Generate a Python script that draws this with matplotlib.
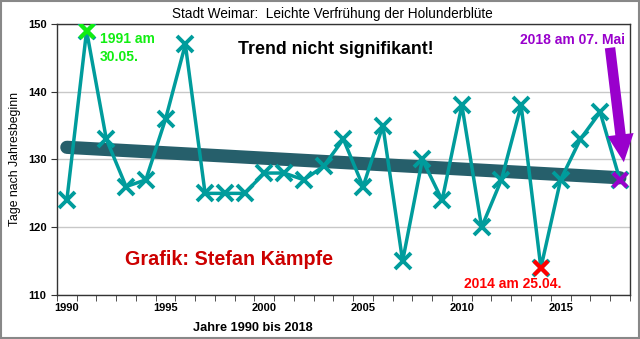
import matplotlib
matplotlib.use("Agg")
import matplotlib.pyplot as plt
from matplotlib.patches import Rectangle

plt.rcParams['font.family'] = ['Liberation Sans', 'DejaVu Sans']

years = list(range(1990, 2019))
days = [124, 149, 133, 126, 127, 136, 147, 125, 125, 125,
        128, 128, 127, 129, 133, 126, 135, 115, 130, 124,
        138, 120, 127, 138, 114, 127, 133, 137, 127]
trend_years = [1990, 2018]
trend_days = [131.8, 127.3]
xtick_years = [1990, 1995, 2000, 2005, 2010, 2015]
yticks = [110, 120, 130, 140, 150]

teal = '#009C9C'
trend_col = '#265F6B'

fig = plt.figure(figsize=(6.4, 3.39), dpi=100)
fig.patch.set_facecolor('white')
fig.add_artist(Rectangle((0.002, 0.003), 0.996, 0.994, transform=fig.transFigure,
                         fill=False, edgecolor='#888888', linewidth=1.5))

ax = fig.add_axes([0.089, 0.130, 0.895, 0.799])
ax.set_xlim(1989.5, 2018.5)
ax.set_ylim(110, 150)

ax.set_yticks(yticks)
ax.set_yticklabels([str(v) for v in yticks], fontsize=8, fontweight='bold')
ax.yaxis.grid(True, color='#C8C8C8', linewidth=1)
ax.set_axisbelow(True)

ax.set_xticks(xtick_years)
ax.set_xticklabels([str(v) for v in xtick_years], fontsize=8, fontweight='bold')
ax.tick_params(axis='x', length=0, pad=6)
ax.set_xticks([y + 0.5 for y in range(1989, 2019)], minor=True)
ax.tick_params(axis='x', which='minor', length=4, direction='out', color='#333333')
ax.tick_params(axis='y', length=4, direction='out', color='#333333')
for s in ax.spines.values():
    s.set_color('#333333')
    s.set_linewidth(1)

# linear trend underneath the yearly series
ax.plot(trend_years, trend_days, color=trend_col, linewidth=9.5,
        solid_capstyle='round', zorder=3)
ax.plot(years, days, color=teal, linewidth=2.5, marker='x', markersize=11,
        markeredgewidth=2.8, zorder=4)

# highlighted years
hl = {1991: '#11EE11', 2014: '#FF0000', 2018: '#9900CC'}
for yr, col in hl.items():
    ax.plot([yr], [days[years.index(yr)]], linestyle='none', marker='x',
            markersize=10, markeredgewidth=3, color=col, zorder=5)

ax.text(1991.68, 148.9, '1991 am\n30.05.', color='#11EE11', fontsize=10,
        fontweight='bold', va='top', ha='left', linespacing=1.45)
ax.text(2003.6, 146.3, 'Trend nicht signifikant!', color='black', fontsize=12.8,
        fontweight='bold', ha='center', va='center')
ax.text(1998.2, 115.3, 'Grafik: Stefan Kämpfe', color='#CC0000', fontsize=14.2,
        fontweight='bold', ha='center', va='center')
ax.text(2012.6, 111.6, '2014 am 25.04.', color='#FF0000', fontsize=10,
        fontweight='bold', ha='center', va='center')
ax.text(2015.6, 147.6, '2018 am 07. Mai', color='#9900CC', fontsize=10,
        fontweight='bold', ha='center', va='center')

ax.annotate('', xy=(2018.2, 129.6), xytext=(2017.5, 146.5),
            arrowprops=dict(arrowstyle='simple,head_width=1.9,head_length=2.0,tail_width=0.75',
                            color='#9900CC', lw=0, shrinkA=0, shrinkB=0), zorder=6)

ax.set_xlabel('Jahre 1990 bis 2018', fontsize=9.2, fontweight='bold')
ax.xaxis.set_label_coords(0.342, -0.1)
ax.set_ylabel('Tage nach Jahresbeginn', fontsize=8.8)
ax.yaxis.set_label_coords(-0.062, 0.5)

fig.text(0.52, 0.959, 'Stadt Weimar:  Leichte Verfrühung der Holunderblüte',
         ha='center', va='center', fontsize=9.8)

fig.savefig('out.png', dpi=100)
